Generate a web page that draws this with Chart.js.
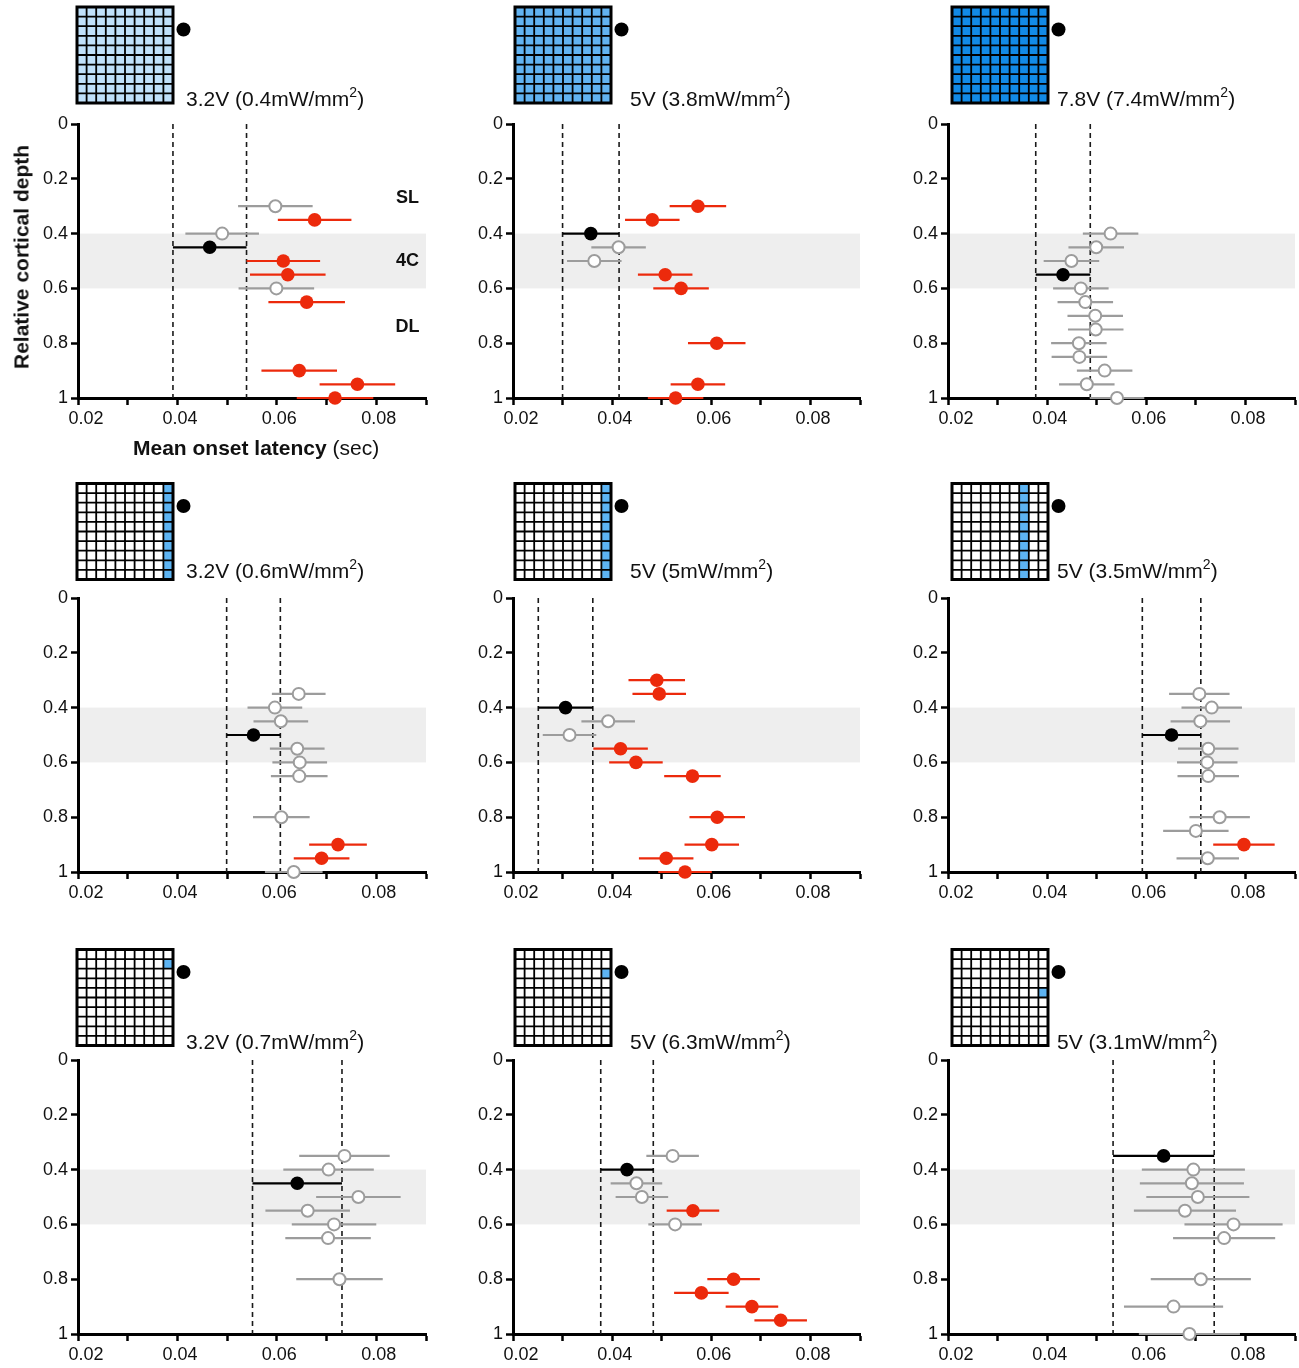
<!DOCTYPE html>
<html>
<head>
<meta charset="utf-8">
<title>Onset latency by cortical depth</title>
<script src="https://cdn.jsdelivr.net/npm/chart.js@4.4.1/dist/chart.umd.min.js"></script>
<style>
  html, body { margin: 0; padding: 0; background: #fff; }
  body { position: relative; width: 1299px; height: 1368px; overflow: hidden;
         font-family: "Liberation Sans", Arial, Helvetica, sans-serif; color: #111; }
  canvas.panel { position: absolute; }
  .lbl { position: absolute; font-size: 21px; line-height: 21px; white-space: nowrap; }
  .sup { font-size: 14px; position: relative; top: -9px; }
  .ytitle { position: absolute; font-size: 21px; line-height: 21px; font-weight: bold; white-space: nowrap;
            transform: translate(-50%, -50%) rotate(-90deg); }
  .xtitle { position: absolute; font-size: 21px; line-height: 21px; white-space: nowrap; }
</style>
</head>
<body>
<script>
// ---- axis ticks ----
const yTickValues = [0, 0.2, 0.4, 0.6, 0.8, 1];
const yTickLabels = ['0', '0.2', '0.4', '0.6', '0.8', '1'];
const xTickValues = [0.02, 0.03, 0.04, 0.05, 0.06, 0.07, 0.08, 0.09];
const xTickLabels = ['0.02', '', '0.04', '', '0.06', '', '0.08', ''];

// ---- cortical layers ----
const layerNames = ['SL', '4C', 'DL'];
const layerDepths = [0.27, 0.5, 0.74];
const layer4C = [0.4, 0.6];

// ---- stimulation conditions ----
const voltages = ['3.2V', '5V', '7.8V', '3.2V', '5V', '5V', '3.2V', '5V', '5V'];
const irradiance = ['0.4', '3.8', '7.4', '0.6', '5', '3.5', '0.7', '6.3', '3.1'];

// kinds: E = significant response (red), N = not significant (grey, open), R = reference site (black)
// panel 1
const depth1 = [0.30, 0.35, 0.40, 0.45, 0.50, 0.55, 0.60, 0.65, 0.90, 0.95, 1.00];
const mean1  = [0.0597, 0.0676, 0.0490, 0.0465, 0.0613, 0.0622, 0.0599, 0.0660, 0.0645, 0.0762, 0.0717];
const sem1   = [0.0075, 0.0074, 0.0074, 0.0074, 0.0074, 0.0076, 0.0076, 0.0077, 0.0076, 0.0076, 0.0077];
const kind1  = ['N', 'E', 'N', 'R', 'E', 'E', 'N', 'E', 'E', 'E', 'E'];
// panel 2
const depth2 = [0.30, 0.35, 0.40, 0.45, 0.50, 0.55, 0.60, 0.80, 0.95, 1.00];
const mean2  = [0.0573, 0.0481, 0.0357, 0.0413, 0.0364, 0.0507, 0.0539, 0.0611, 0.0573, 0.0528];
const sem2   = [0.0057, 0.0055, 0.0057, 0.0055, 0.0055, 0.0055, 0.0056, 0.0058, 0.0055, 0.0056];
const kind2  = ['E', 'E', 'R', 'N', 'N', 'E', 'E', 'E', 'E', 'E'];
// panel 3
const depth3 = [0.40, 0.45, 0.50, 0.55, 0.60, 0.65, 0.70, 0.75, 0.80, 0.85, 0.90, 0.95, 1.00];
const mean3  = [0.0528, 0.0499, 0.0449, 0.0432, 0.0468, 0.0477, 0.0497, 0.0498, 0.0464, 0.0465, 0.0516, 0.0480, 0.0541];
const sem3   = [0.0056, 0.0056, 0.0056, 0.0055, 0.0056, 0.0056, 0.0056, 0.0056, 0.0056, 0.0056, 0.0056, 0.0056, 0.0055];
const kind3  = ['N', 'N', 'N', 'R', 'N', 'N', 'N', 'N', 'N', 'N', 'N', 'N', 'N'];
// panel 4
const depth4 = [0.35, 0.40, 0.45, 0.50, 0.55, 0.60, 0.65, 0.80, 0.90, 0.95, 1.00];
const mean4  = [0.0644, 0.0596, 0.0608, 0.0553, 0.0641, 0.0646, 0.0645, 0.0609, 0.0723, 0.0690, 0.0634];
const sem4   = [0.0054, 0.0055, 0.0055, 0.0054, 0.0055, 0.0055, 0.0057, 0.0057, 0.0058, 0.0056, 0.0058];
const kind4  = ['N', 'N', 'N', 'R', 'N', 'N', 'N', 'N', 'E', 'E', 'N'];
// panel 5
const depth5 = [0.30, 0.35, 0.40, 0.45, 0.50, 0.55, 0.60, 0.65, 0.80, 0.90, 0.95, 1.00];
const mean5  = [0.0490, 0.0495, 0.0306, 0.0392, 0.0314, 0.0417, 0.0448, 0.0562, 0.0612, 0.0601, 0.0509, 0.0547];
const sem5   = [0.0057, 0.0054, 0.0055, 0.0054, 0.0054, 0.0055, 0.0054, 0.0057, 0.0056, 0.0055, 0.0055, 0.0054];
const kind5  = ['E', 'E', 'R', 'N', 'N', 'E', 'E', 'E', 'E', 'E', 'E', 'E'];
// panel 6
const depth6 = [0.35, 0.40, 0.45, 0.50, 0.55, 0.60, 0.65, 0.80, 0.85, 0.90, 0.95];
const mean6  = [0.0707, 0.0732, 0.0709, 0.0651, 0.0725, 0.0723, 0.0725, 0.0748, 0.0700, 0.0797, 0.0724];
const sem6   = [0.0061, 0.0061, 0.0060, 0.0059, 0.0061, 0.0061, 0.0062, 0.0061, 0.0066, 0.0062, 0.0063];
const kind6  = ['N', 'N', 'N', 'R', 'N', 'N', 'N', 'N', 'N', 'E', 'N'];
// panel 7
const depth7 = [0.35, 0.40, 0.45, 0.50, 0.55, 0.60, 0.65, 0.80];
const mean7  = [0.0736, 0.0704, 0.0641, 0.0764, 0.0662, 0.0715, 0.0703, 0.0726];
const sem7   = [0.0091, 0.0091, 0.0090, 0.0085, 0.0085, 0.0085, 0.0086, 0.0087];
const kind7  = ['N', 'N', 'R', 'N', 'N', 'N', 'N', 'N'];
// panel 8
const depth8 = [0.35, 0.40, 0.45, 0.50, 0.55, 0.60, 0.80, 0.85, 0.90, 0.95];
const mean8  = [0.0522, 0.0430, 0.0449, 0.0460, 0.0563, 0.0527, 0.0645, 0.0580, 0.0682, 0.0740];
const sem8   = [0.0053, 0.0053, 0.0052, 0.0053, 0.0053, 0.0054, 0.0053, 0.0055, 0.0053, 0.0053];
const kind8  = ['N', 'R', 'N', 'N', 'E', 'N', 'E', 'E', 'E', 'E'];
// panel 9
const depth9 = [0.35, 0.40, 0.45, 0.50, 0.55, 0.60, 0.65, 0.80, 0.90, 1.00];
const mean9  = [0.0635, 0.0695, 0.0692, 0.0704, 0.0678, 0.0776, 0.0757, 0.0710, 0.0655, 0.0687];
const sem9   = [0.0102, 0.0104, 0.0105, 0.0104, 0.0103, 0.0099, 0.0103, 0.0101, 0.0100, 0.0102];
const kind9  = ['R', 'N', 'N', 'N', 'N', 'N', 'N', 'N', 'N', 'N'];

// illuminated cells of the 10x10 LED array ([row, col]) for each condition
const allCells = [];
for (let r = 0; r < 10; r++) for (let c = 0; c < 10; c++) allCells.push([r, c]);
const columnCells = c => Array.from({ length: 10 }, (_, r) => [r, c]);
const litCells = [allCells, allCells, allCells, columnCells(9), columnCells(9), columnCells(7), [[1, 9]], [[2, 9]], [[4, 9]]];
const litColors = ['#bfe0fa', '#62b3f1', '#128ae6', '#5db4f3', '#5db4f3', '#5db4f3', '#5db4f3', '#5db4f3', '#5db4f3'];

const depths = [depth1, depth2, depth3, depth4, depth5, depth6, depth7, depth8, depth9];
const means = [mean1, mean2, mean3, mean4, mean5, mean6, mean7, mean8, mean9];
const sems = [sem1, sem2, sem3, sem4, sem5, sem6, sem7, sem8, sem9];
const kinds = [kind1, kind2, kind3, kind4, kind5, kind6, kind7, kind8, kind9];

// ---- page layout ----
const colLeft = [0, 435, 870];
const colWidth = [435, 435, 429];
const rowTop = [0, 474, 936];
const rowHeight = [465, 462, 432];
const plotLeft = 78, plotTop = 124, plotHeight = 274;
const plotRight = [426, 425, 425];
const iconX = [77, 80, 82];
const iconY = [7, 9.5, 13.5];
const iconSize = 96;
const labelX = [186, 195, 187];
const labelBaseline = [105.5, 104, 113];

const RED = '#ec2a0c', GREY = '#9c9c9c', BLACK = '#000';
const style = {
  E: { fill: RED, stroke: RED, bar: RED, radius: 6.8, border: 0 },
  N: { fill: '#ffffff', stroke: GREY, bar: GREY, radius: 6, border: 2 },
  R: { fill: BLACK, stroke: BLACK, bar: BLACK, radius: 6.8, border: 0 }
};
const FONT = '"Liberation Sans", Arial, Helvetica, sans-serif';

Chart.defaults.font.family = FONT;
Chart.defaults.font.size = 18;
Chart.defaults.color = '#111';

const decor = {
  id: 'decor',
  beforeDraw(chart) {
    const { ctx, chartArea: a, scales: { y } } = chart;
    const t = y.getPixelForValue(layer4C[0]), b = y.getPixelForValue(layer4C[1]);
    ctx.save();
    ctx.fillStyle = '#eeeeee';
    ctx.fillRect(a.left, t, a.right - a.left, b - t);
    ctx.restore();
  },
  beforeDatasetsDraw(chart, args, opts) {
    const p = opts.panel;
    const { ctx, scales: { x, y } } = chart;
    const m = means[p], s = sems[p], d = depths[p], k = kinds[p];
    const ref = k.indexOf('R');
    ctx.save();
    // reference-site latency window (mean ± sem)
    ctx.strokeStyle = '#1a1a1a';
    ctx.lineWidth = 1.6;
    ctx.setLineDash([5, 4]);
    [m[ref] - s[ref], m[ref] + s[ref]].forEach(v => {
      const px = x.getPixelForValue(v);
      ctx.beginPath();
      ctx.moveTo(px, y.getPixelForValue(0));
      ctx.lineTo(px, y.getPixelForValue(1));
      ctx.stroke();
    });
    // horizontal error bars
    ctx.setLineDash([]);
    ctx.lineWidth = 2.2;
    d.forEach((dep, j) => {
      ctx.strokeStyle = style[k[j]].bar;
      const py = y.getPixelForValue(dep);
      ctx.beginPath();
      ctx.moveTo(x.getPixelForValue(m[j] - s[j]), py);
      ctx.lineTo(x.getPixelForValue(m[j] + s[j]), py);
      ctx.stroke();
    });
    ctx.restore();
  },
  afterDraw(chart, args, opts) {
    const p = opts.panel;
    const col = p % 3, row = Math.floor(p / 3);
    const { ctx, chartArea: a, scales: { x, y } } = chart;
    ctx.save();

    // x tick labels (first one nudged clear of the depth axis)
    ctx.font = '18px ' + FONT;
    ctx.fillStyle = '#111';
    ctx.textAlign = 'center';
    ctx.textBaseline = 'alphabetic';
    xTickValues.forEach((v, i) => {
      if (!xTickLabels[i]) return;
      const dx = i === 0 ? 8 : 2.5;
      ctx.fillText(xTickLabels[i], x.getPixelForValue(v) + dx, a.bottom + 26);
    });

    // LED array icon
    const x0 = iconX[col], y0 = iconY[row], cell = iconSize / 10;
    ctx.fillStyle = '#fff';
    ctx.fillRect(x0, y0, iconSize, iconSize);
    ctx.fillStyle = litColors[p];
    litCells[p].forEach(([r, c]) => ctx.fillRect(x0 + c * cell, y0 + r * cell, cell, cell));
    ctx.strokeStyle = '#000';
    ctx.lineWidth = 1.8;
    ctx.beginPath();
    for (let i = 1; i < 10; i++) {
      ctx.moveTo(x0 + i * cell, y0); ctx.lineTo(x0 + i * cell, y0 + iconSize);
      ctx.moveTo(x0, y0 + i * cell); ctx.lineTo(x0 + iconSize, y0 + i * cell);
    }
    ctx.stroke();
    ctx.lineWidth = 3;
    ctx.strokeRect(x0, y0, iconSize, iconSize);
    // recording electrode marker
    ctx.fillStyle = '#000';
    ctx.beginPath();
    ctx.arc(x0 + iconSize + 10.5, y0 + 22.5, 7, 0, Math.PI * 2);
    ctx.fill();

    // layer names in the first panel
    if (p === 0) {
      ctx.font = 'bold 18px ' + FONT;
      ctx.textAlign = 'center';
      ctx.textBaseline = 'middle';
      ctx.fillStyle = '#111';
      layerNames.forEach((n, i) => ctx.fillText(n, x.getPixelForValue(0.0863), y.getPixelForValue(layerDepths[i])));
    }
    ctx.restore();
  }
};

function buildPanel(p) {
  const col = p % 3, row = Math.floor(p / 3);
  const W = colWidth[col], H = rowHeight[row];
  const canvas = document.createElement('canvas');
  canvas.className = 'panel';
  canvas.width = W; canvas.height = H;
  canvas.style.left = colLeft[col] + 'px';
  canvas.style.top = rowTop[row] + 'px';
  canvas.style.width = W + 'px';
  canvas.style.height = H + 'px';
  document.body.appendChild(canvas);

  const datasets = ['N', 'E', 'R'].map(kind => {
    const st = style[kind];
    return {
      label: kind,
      data: depths[p].map((d, j) => ({ x: means[p][j], y: d, k: kinds[p][j] })).filter(o => o.k === kind),
      pointRadius: st.radius,
      pointBackgroundColor: st.fill,
      pointBorderColor: st.stroke,
      pointBorderWidth: st.border,
      pointHoverRadius: st.radius,
      showLine: false,
      clip: false
    };
  });

  new Chart(canvas, {
    type: 'scatter',
    data: { datasets },
    options: {
      responsive: false,
      animation: false,
      events: [],
      layout: { autoPadding: false, padding: { left: 0, top: plotTop, right: W - plotRight[col], bottom: 0 } },
      plugins: { legend: { display: false }, tooltip: { enabled: false }, decor: { panel: p } },
      scales: {
        x: {
          type: 'linear', min: 0.02, max: 0.09,
          afterBuildTicks: s => { s.ticks = xTickValues.map(v => ({ value: v })); },
          afterFit: s => { s.height = H - plotTop - plotHeight; },
          ticks: { autoSkip: false, maxRotation: 0, callback: () => '' },
          grid: { drawOnChartArea: false, drawTicks: true, tickLength: 7, tickWidth: 2.5, tickColor: '#000' },
          border: { display: true, color: '#000', width: 3 }
        },
        y: {
          type: 'linear', min: 0, max: 1, reverse: true,
          afterBuildTicks: s => { s.ticks = yTickValues.map(v => ({ value: v })); },
          afterFit: s => { s.width = plotLeft; },
          ticks: {
            autoSkip: false, padding: 3, color: '#111',
            callback: v => yTickLabels[yTickValues.findIndex(t => Math.abs(t - v) < 1e-9)] ?? ''
          },
          grid: { drawOnChartArea: false, drawTicks: true, tickLength: 7, tickWidth: 2.5, tickColor: '#000' },
          border: { display: true, color: '#000', width: 3 }
        }
      }
    },
    plugins: [decor]
  });

  // condition label beside the icon
  const lbl = document.createElement('div');
  lbl.className = 'lbl';
  lbl.style.left = (colLeft[col] + labelX[col]) + 'px';
  lbl.style.top = (rowTop[row] + labelBaseline[row] - 17.8) + 'px';
  lbl.innerHTML = `${voltages[p]} (${irradiance[p]}mW/mm<span class="sup">2</span>)`;
  document.body.appendChild(lbl);
}

for (let p = 0; p < 9; p++) buildPanel(p);

// axis titles on the first panel
const yt = document.createElement('div');
yt.className = 'ytitle';
yt.style.left = '21px';
yt.style.top = '257px';
yt.textContent = 'Relative cortical depth';
document.body.appendChild(yt);

const xt = document.createElement('div');
xt.className = 'xtitle';
xt.style.left = '133px';
xt.style.top = (455 - 17.8) + 'px';
xt.innerHTML = '<b>Mean onset latency</b> (sec)';
document.body.appendChild(xt);
</script>
</body>
</html>
